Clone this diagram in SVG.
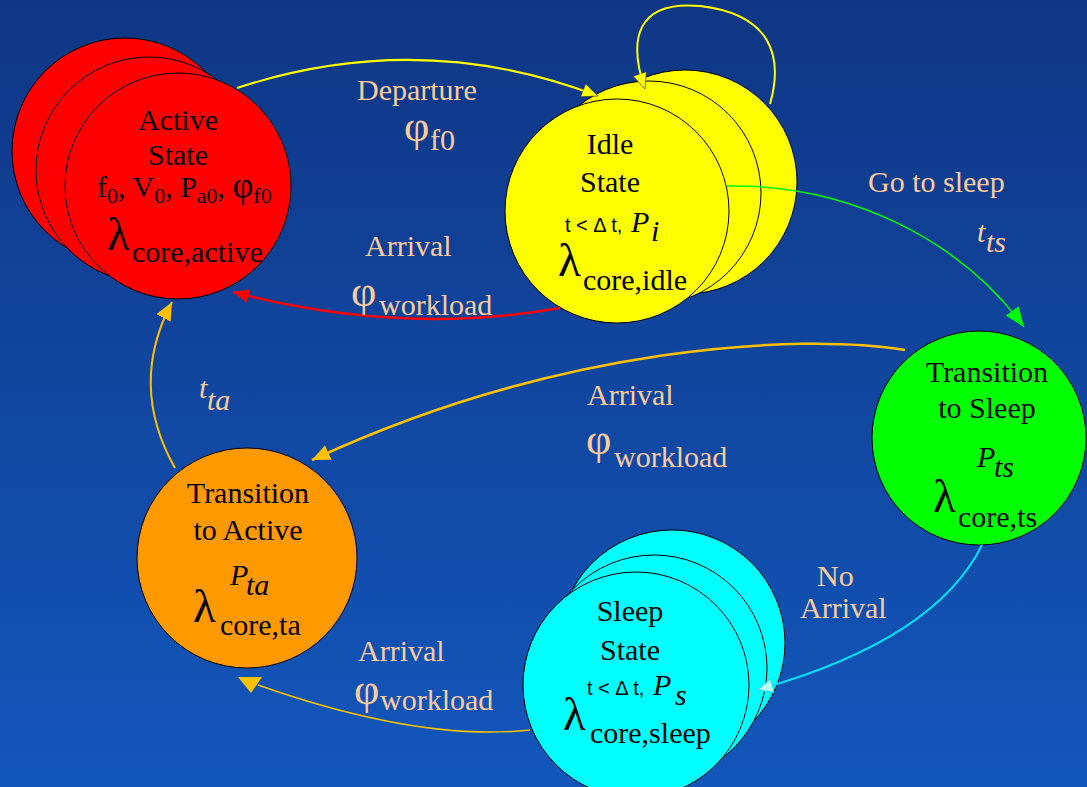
<svg xmlns="http://www.w3.org/2000/svg" width="1087" height="787" viewBox="0 0 1087 787">
<defs>
<linearGradient id="bg" x1="0" y1="0" x2="0" y2="1">
<stop offset="0" stop-color="#0f3684"/>
<stop offset="1" stop-color="#1257bc"/>
</linearGradient>
<marker id="mY" viewBox="0 0 16 14" refX="16" refY="7" markerWidth="16" markerHeight="14" markerUnits="userSpaceOnUse" orient="auto"><path d="M0,0 L16,7 L0,14 Z" fill="#ffff00" stroke="#333" stroke-width="0.6"/></marker>
<marker id="mR" viewBox="0 0 16 14" refX="16" refY="7" markerWidth="16" markerHeight="14" markerUnits="userSpaceOnUse" orient="auto"><path d="M0,0 L16,7 L0,14 Z" fill="#ff0000"/></marker>
<marker id="mG" viewBox="0 0 20 16" refX="20" refY="8" markerWidth="20" markerHeight="16" markerUnits="userSpaceOnUse" orient="auto"><path d="M0,0 L20,8 L0,16 Z" fill="#00ff00"/></marker>
<marker id="mO" viewBox="0 0 18 16" refX="18" refY="8" markerWidth="18" markerHeight="16" markerUnits="userSpaceOnUse" orient="auto"><path d="M0,0 L18,8 L0,16 Z" fill="#ffc000"/></marker>
<marker id="mC" viewBox="0 0 16 14" refX="16" refY="7" markerWidth="16" markerHeight="14" markerUnits="userSpaceOnUse" orient="auto"><path d="M0,0 L16,7 L0,14 Z" fill="#bff" stroke="#00e0ff" stroke-width="1"/></marker>
</defs>
<style>
.n{stroke:#000;stroke-width:1}
.t{font-family:"Liberation Serif",serif;font-size:30px;fill:#000}
.mid{text-anchor:middle}
.lam{font-family:"Liberation Serif",serif;font-size:47px;fill:#000}
.sm{font-family:"Liberation Sans",sans-serif;font-size:20px;fill:#000}
.it{font-style:italic}
.lb{font-family:"Liberation Serif",serif;font-size:30px;fill:#fccb9c}
.phi{font-family:"Liberation Serif",serif;font-size:44px;fill:#fccb9c}
.c{fill:none}
</style>
<rect x="0" y="0" width="1087" height="787" fill="url(#bg)"/>

<g id="active">
<circle class="n" cx="125" cy="151" r="113" fill="#ff0000"/>
<circle class="n" cx="149" cy="170" r="113" fill="#ff0000"/>
<circle class="n" cx="178" cy="186" r="113" fill="#ff0000"/>
<text class="t mid" x="178" y="130">Active</text>
<text class="t mid" x="178" y="165">State</text>
<text class="t" x="97" y="197">f<tspan dy="6" font-size="22">0</tspan><tspan dy="-6">, V</tspan><tspan dy="6" font-size="22">0</tspan><tspan dy="-6">, P</tspan><tspan dy="6" font-size="22">a0</tspan><tspan dy="-6">,  </tspan><tspan font-size="36">φ</tspan><tspan dy="6" font-size="22">f0</tspan></text>
<text class="lam" x="107" y="250" font-size="43">λ</text>
<text class="t" x="132" y="262">core,active</text>
</g>

<g id="idle">
<circle class="n" cx="685" cy="182" r="112" fill="#ffff00"/>
<circle class="n" cx="649" cy="193" r="112" fill="#ffff00"/>
<circle class="n" cx="617" cy="211" r="112" fill="#ffff00"/>
<text class="t mid" x="610" y="154">Idle</text>
<text class="t mid" x="610" y="192">State</text>
<text class="sm" x="565" y="232">t &lt; Δ t,</text>
<text class="t it" x="631" y="232" font-size="33">P</text>
<text class="t it" x="651" y="241" font-size="22">i</text>
<text class="lam" x="558" y="276">λ</text>
<text class="t" x="583" y="290">core,idle</text>
</g>

<g id="toSleep">
<circle class="n" cx="979" cy="438" r="107" fill="#00ff00"/>
<text class="t mid" x="987" y="382">Transition</text>
<text class="t mid" x="987" y="418">to Sleep</text>
<text class="t it" x="977" y="467" font-size="28">P</text>
<text class="t it" x="994" y="477" font-size="22">ts</text>
<text class="lam" x="933" y="512">λ</text>
<text class="t" x="958" y="527">core,ts</text>
</g>

<g id="toActive">
<circle class="n" cx="247" cy="558" r="110" fill="#ff9900"/>
<text class="t mid" x="248" y="503">Transition</text>
<text class="t mid" x="248" y="540">to Active</text>
<text class="t it" x="230" y="585" font-size="28">P</text>
<text class="t it" x="246" y="595" font-size="22">ta</text>
<text class="lam" x="193" y="622">λ</text>
<text class="t" x="220" y="635">core,ta</text>
</g>

<g id="sleep">
<circle class="n" cx="672" cy="643" r="113" fill="#00ffff"/>
<circle class="n" cx="654" cy="668" r="113" fill="#00ffff"/>
<circle class="n" cx="636" cy="685" r="113" fill="#00ffff"/>
<text class="t mid" x="630" y="621">Sleep</text>
<text class="t mid" x="630" y="660">State</text>
<text class="sm" x="587" y="695">t &lt; Δ t,</text>
<text class="t it" x="653" y="695" font-size="33">P</text>
<text class="t it" x="675" y="705" font-size="22">s</text>
<text class="lam" x="563" y="730">λ</text>
<text class="t" x="590" y="743">core,sleep</text>
</g>

<g id="connectors">
<path class="c" d="M237 88 Q420 28 598 96" stroke="#ffff00" stroke-width="2" marker-end="url(#mY)"/>
<path class="c" d="M770 104 C784 55 770 14 700 6 C636 0 628 40 645 89" stroke="#ffff00" stroke-width="2" marker-end="url(#mY)"/>
<path class="c" d="M560 308 Q400 336 233 292" stroke="#ff0000" stroke-width="2.5" marker-end="url(#mR)"/>
<path class="c" d="M727 186 C850 184 960 240 1024 327" stroke="#00ff00" stroke-width="1.5" marker-end="url(#mG)"/>
<path class="c" d="M905 350 C800 333 560 345 312 460" stroke="#ffc000" stroke-width="2.5" marker-end="url(#mO)"/>
<path class="c" d="M175 468 Q128 385 172 302" stroke="#ffc000" stroke-width="2" marker-end="url(#mO)"/>
<path class="c" d="M982 545 Q935 640 757 690" stroke="#00e0ff" stroke-width="2" marker-end="url(#mC)"/>
<path class="c" d="M530 730 Q420 742 258 685" stroke="#ffc000" stroke-width="1.5"/>
<polygon points="238,677 262,677 251,693" fill="#ffc000"/>
</g>

<g id="labels">
<text class="lb" x="357" y="100">Departure</text>
<text class="phi" x="404" y="141">φ</text>
<text class="lb" x="430" y="150" font-size="25">f0</text>
<text class="lb" x="365" y="256">Arrival</text>
<text class="phi" x="351" y="306">φ</text>
<text class="lb" x="379" y="315">workload</text>
<text class="lb" x="868" y="192">Go to sleep</text>
<text class="lb it" x="977" y="242">t</text>
<text class="lb it" x="986" y="252" font-size="22">ts</text>
<text class="lb" x="587" y="405">Arrival</text>
<text class="phi" x="586" y="454">φ</text>
<text class="lb" x="614" y="467">workload</text>
<text class="lb it" x="199" y="398">t</text>
<text class="lb it" x="207" y="410" font-size="22">ta</text>
<text class="lb" x="817" y="586" font-size="28">No</text>
<text class="lb" x="800" y="618" font-size="28">Arrival</text>
<text class="lb" x="358" y="661">Arrival</text>
<text class="phi" x="354" y="704" font-size="40">φ</text>
<text class="lb" x="380" y="710">workload</text>
</g>
</svg>
